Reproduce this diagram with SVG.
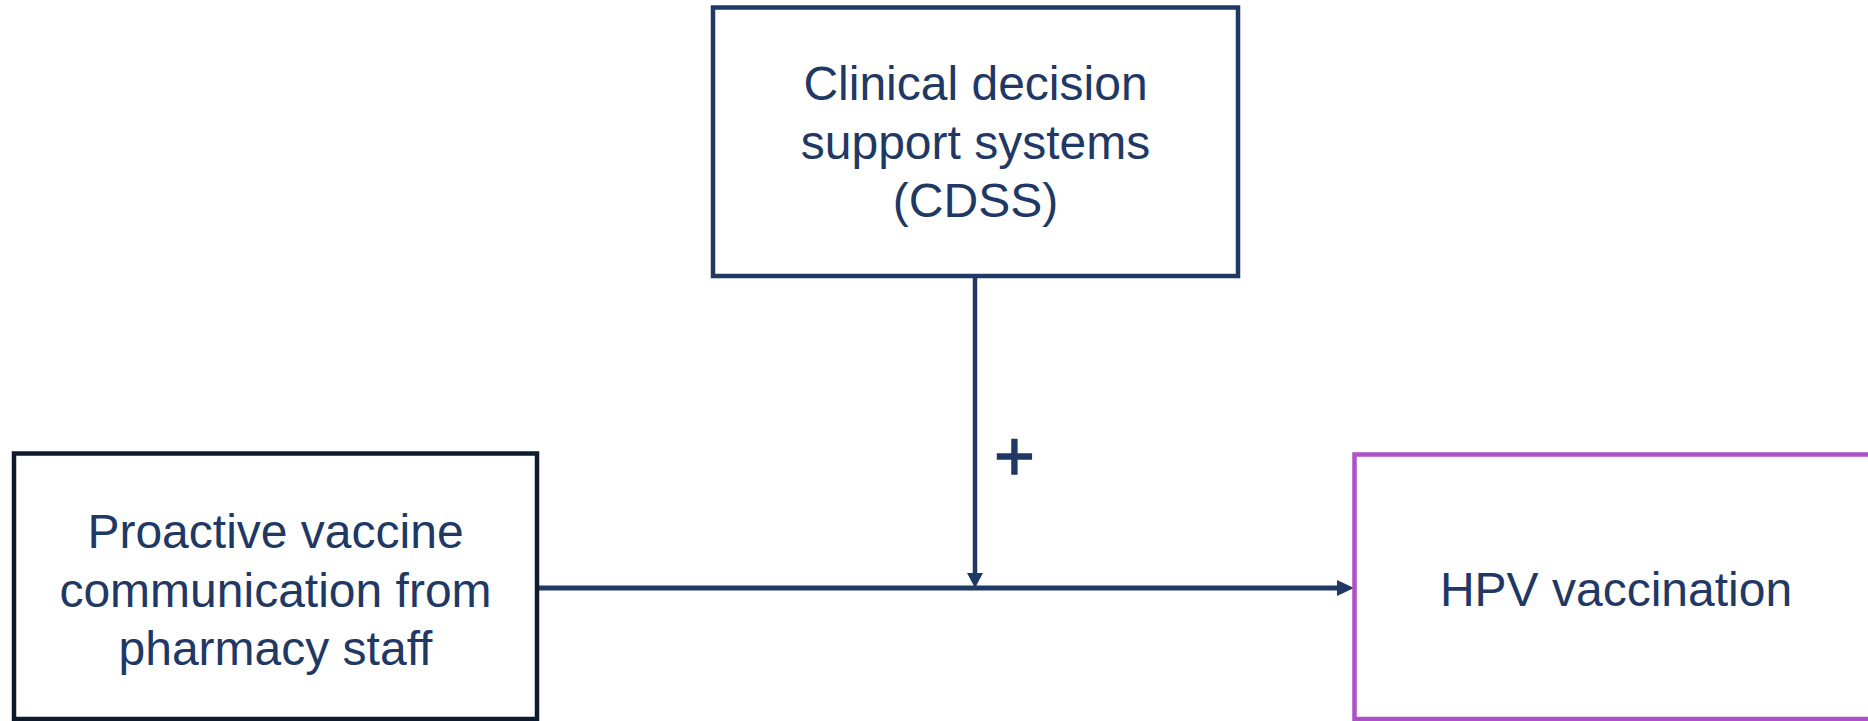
<svg xmlns="http://www.w3.org/2000/svg" width="1868" height="721" viewBox="0 0 1868 721">
<style>
.box{fill:#ffffff;stroke-width:4.5}
.lbl{font-family:"Liberation Sans",Arial,sans-serif;font-size:48px;fill:#1F3864;text-anchor:middle}
.conn{stroke:#1F3864;fill:none}
.head{fill:#1F3864}
</style>
<rect width="1868" height="721" fill="#ffffff"/>
<g id="connectors">
<line class="conn" x1="539" y1="588" x2="1340" y2="588" stroke-width="5"/>
<polygon class="head" points="1337,580 1354,588 1337,596"/>
<line class="conn" x1="975" y1="278" x2="975" y2="575" stroke-width="4.5"/>
<polygon class="head" points="967,573 983,573 975,588"/>
<text class="lbl" x="1014.5" y="480" style="font-size:70px" stroke="#1F3864" stroke-width="1.3">+</text>
</g>
<g id="node-cdss">
<rect class="box" x="713" y="7.5" width="525" height="268.5" stroke="#1F3864"/>
<text class="lbl" x="975.5" y="100">Clinical decision</text>
<text class="lbl" x="975.5" y="158.5">support systems</text>
<text class="lbl" x="975.5" y="217">(CDSS)</text>
</g>
<g id="node-proactive">
<rect class="box" x="14" y="453.5" width="523" height="265.5" stroke="#0E1A2E"/>
<text class="lbl" x="275.5" y="548">Proactive vaccine</text>
<text class="lbl" x="275.5" y="606.5">communication from</text>
<text class="lbl" x="275.5" y="665">pharmacy staff</text>
</g>
<g id="node-hpv">
<rect class="box" x="1354.5" y="454.5" width="560" height="264.5" stroke="#AE50C8"/>
<text class="lbl" x="1616" y="606">HPV vaccination</text>
</g>
</svg>
